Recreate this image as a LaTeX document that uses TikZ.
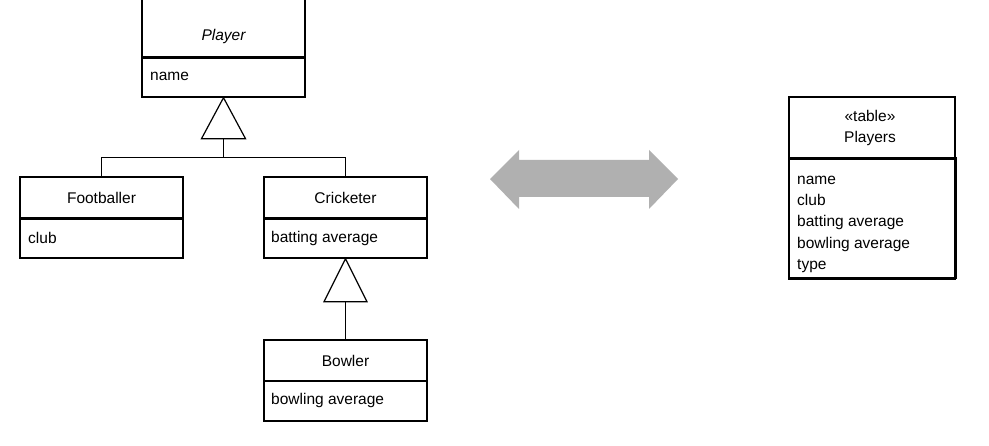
\documentclass[tikz,border=0pt]{standalone}
\usepackage{fontspec}
\setmainfont{Liberation Sans}
\definecolor{arrowgray}{RGB}{176,176,176}
\begin{document}
\begin{tikzpicture}[x=1pt,y=-1pt,
  box/.style={draw, line width=1.4pt, inner sep=0pt, minimum width=163pt},
  thickdiv/.style={line width=2.6pt},
  txt/.style={inner sep=0pt, font=\fontsize{15.5}{18}\selectfont},
  gen/.style={draw, line width=1.2pt, fill=white},
  link/.style={draw, line width=1.2pt}
]
\useasboundingbox (0,0) rectangle (989,446);
\fill[white] (0,0) rectangle (989,446);

% Player
\node[box, minimum height=67pt] (ph) at (223.5,23.5) {};
\node[box, minimum height=40pt] (pa) at (223.5,77) {};
\draw[thickdiv] (ph.south west) -- (ph.south east);
\node[txt, font=\fontsize{15.5}{18}\selectfont\itshape] (pn) at (223.5,36) {Player};
\node[txt, anchor=west] (pat) at (150,76) {name};

% Footballer
\node[box, minimum height=41pt] (fh) at (101.5,197.5) {};
\node[box, minimum height=40pt] (fa) at (101.5,238) {};
\draw[thickdiv] (fh.south west) -- (fh.south east);
\node[txt] (fn) at (101.5,198) {Footballer};
\node[txt, anchor=west] (fat) at (28,238) {club};

% Cricketer
\node[box, minimum height=41pt] (ch) at (345.5,197.5) {};
\node[box, minimum height=40pt] (ca) at (345.5,238) {};
\draw[thickdiv] (ch.south west) -- (ch.south east);
\node[txt] (cn) at (345.5,198) {Cricketer};
\node[txt, anchor=west] (cat) at (271,238) {batting average};

% Bowler
\node[box, minimum height=41pt] (bh) at (345.5,360.5) {};
\node[box, minimum height=40pt] (ba) at (345.5,401) {};
\node[txt] (bn) at (345.5,361) {Bowler};
\node[txt, anchor=west] (bat) at (271,400) {bowling average};

% Generalisation Player
\draw[gen] (pa.south) -- ++(-22,41) -- ++(44,0) -- cycle;
\coordinate (t1b) at ([yshift=-41pt]pa.south);
\coordinate (j1) at ([yshift=-60pt]pa.south);
\draw[link] (t1b) -- (j1);
\draw[link] (j1) -| (fh.north);
\draw[link] (j1) -| (ch.north);

% Generalisation Cricketer
\draw[gen] (ca.south) -- ++(-21.5,43) -- ++(43,0) -- cycle;
\coordinate (t2b) at ([yshift=-43pt]ca.south);
\draw[link] (t2b) -- (bh.north);

% Double arrow
\fill[arrowgray] (490,179) -- (519,150) -- (519,160) -- (649,160) -- (649,150)
  -- (678,179) -- (649,209) -- (649,197) -- (519,197) -- (519,209) -- cycle;

% Table
\node[box, minimum width=166pt, minimum height=61pt] (th) at (872,127.5) {};
\node[box, minimum width=166pt, minimum height=120pt] (ta) at (872,218) {};
\draw[thickdiv] (th.south west) -- (th.south east);
\draw[line width=2.4pt] (ta.south west) -- (ta.south east);
\draw[line width=2.2pt] (ta.north east) -- (ta.south east);
\node[txt, align=center, font=\fontsize{15.5}{21}\selectfont] (tn) at (870,127.5) {«table»\\Players};
\node[txt, anchor=north west, align=left, font=\fontsize{15.5}{21.2}\selectfont] (tat) at (797,176)
  {name\\club\\batting average\\bowling average\\type};
\end{tikzpicture}
\end{document}
